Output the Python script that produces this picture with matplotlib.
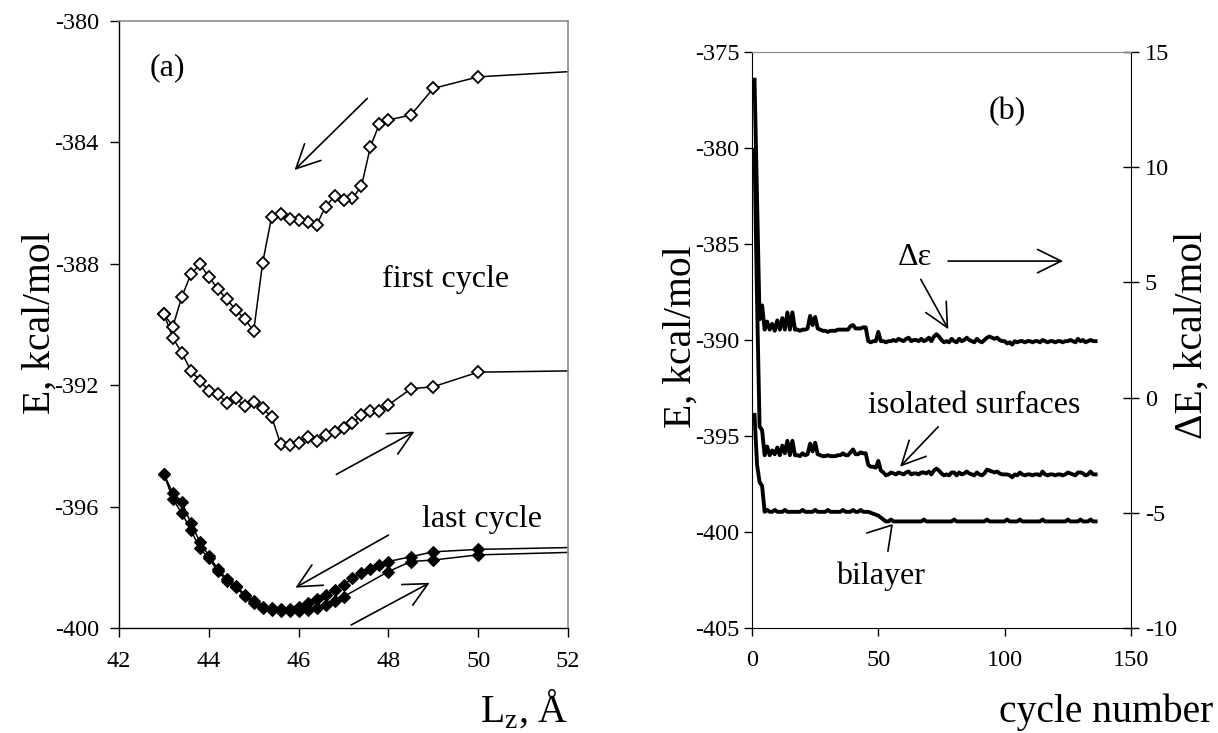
import numpy as np
import matplotlib
matplotlib.use("Agg")
import matplotlib.pyplot as plt

plt.rcParams['font.family'] = ['Liberation Serif', 'DejaVu Serif']
plt.rcParams['axes.unicode_minus'] = False
plt.rcParams['mathtext.fontset'] = 'custom'
plt.rcParams['mathtext.rm'] = 'Liberation Serif'

# ---------------- panel (a) data ----------------
L_first_down = [52.0, 50.0, 49.0, 48.5, 48.0, 47.8, 47.6, 47.4, 47.2, 47.0, 46.8, 46.6, 46.4, 46.2,
                46.0, 45.8, 45.6, 45.4, 45.2, 45.0, 44.8, 44.6, 44.4, 44.2, 44.0, 43.8, 43.6, 43.4,
                43.2, 43.0]
E_first_down = [-381.67, -381.84, -382.22, -383.10, -383.26, -383.39, -384.14, -385.44, -385.84,
                -385.90, -385.77, -386.12, -386.72, -386.63, -386.56, -386.52, -386.37, -386.45,
                -387.96, -390.21, -389.82, -389.52, -389.17, -388.83, -388.42, -388.02, -388.35,
                -389.08, -390.07, -389.65]

L_first_up = [43.0, 43.2, 43.4, 43.6, 43.8, 44.0, 44.2, 44.4, 44.6, 44.8, 45.0, 45.2, 45.4, 45.6,
              45.8, 46.0, 46.2, 46.4, 46.6, 46.8, 47.0, 47.2, 47.4, 47.6, 47.8, 48.0, 48.5, 49.0,
              50.0, 52.0]
E_first_up = [-389.65, -390.45, -390.93, -391.52, -391.85, -392.18, -392.29, -392.58, -392.43,
              -392.69, -392.56, -392.76, -393.04, -393.95, -393.97, -393.89, -393.70, -393.83,
              -393.64, -393.55, -393.42, -393.24, -392.98, -392.84, -392.84, -392.65, -392.12,
              -392.05, -391.57, -391.53]

L_last_down = [52.0, 50.0, 49.0, 48.5, 48.0, 47.8, 47.6, 47.4, 47.2, 47.0, 46.8, 46.6, 46.4, 46.2,
               46.0, 45.8, 45.6, 45.4, 45.2, 45.0, 44.8, 44.6, 44.4, 44.2, 44.0, 43.8, 43.6, 43.4,
               43.2, 43.0]
E_last_down = [-397.35, -397.41, -397.49, -397.65, -397.81, -397.92, -398.07, -398.20, -398.36,
               -398.58, -398.75, -398.91, -399.06, -399.19, -399.32, -399.38, -399.38, -399.35,
               -399.30, -399.12, -398.90, -398.60, -398.38, -398.05, -397.62, -397.16, -396.55,
               -395.84, -395.56, -394.93]

L_last_up = [43.0, 43.2, 43.4, 43.6, 43.8, 44.0, 44.2, 44.4, 44.6, 44.8, 45.0, 45.2, 45.4, 45.6,
             45.8, 46.0, 46.2, 46.4, 46.6, 46.8, 47.0, 48.0, 48.5, 49.0, 50.0, 52.0]
E_last_up = [-394.93, -395.75, -396.22, -396.77, -397.38, -397.70, -398.12, -398.45, -398.65,
             -398.95, -399.18, -399.35, -399.42, -399.45, -399.45, -399.45, -399.40, -399.35,
             -399.25, -399.12, -398.97, -398.14, -397.81, -397.76, -397.59, -397.51]

# ---------------- panel (b) data ----------------
cycles = list(range(1, 137))
d_eps = [13.80, 8.60, 3.40, 4.00, 2.95, 3.30, 2.95, 3.20, 2.90, 3.35,
         2.95, 3.45, 2.95, 3.70, 2.95, 3.70, 2.95, 2.95, 2.90, 2.95,
         2.95, 3.00, 3.55, 3.15, 3.50, 3.00, 2.95, 2.90, 2.90, 2.85,
         2.90, 2.90, 2.90, 2.95, 2.95, 2.95, 2.95, 2.95, 3.10, 3.15,
         3.00, 3.00, 3.00, 3.05, 3.05, 2.45, 2.40, 2.45, 2.45, 2.85,
         2.45, 2.45, 2.40, 2.45, 2.45, 2.50, 2.45, 2.55, 2.50, 2.45,
         2.55, 2.60, 2.45, 2.50, 2.50, 2.45, 2.55, 2.45, 2.50, 2.60,
         2.45, 2.65, 2.75, 2.65, 2.50, 2.40, 2.45, 2.40, 2.55, 2.45,
         2.40, 2.55, 2.45, 2.50, 2.60, 2.50, 2.45, 2.40, 2.55, 2.45,
         2.40, 2.50, 2.60, 2.65, 2.60, 2.55, 2.60, 2.50, 2.45, 2.45,
         2.35, 2.40, 2.30, 2.45, 2.40, 2.45, 2.45, 2.40, 2.45, 2.45,
         2.40, 2.45, 2.45, 2.40, 2.50, 2.45, 2.40, 2.45, 2.45, 2.40,
         2.45, 2.45, 2.40, 2.45, 2.45, 2.50, 2.45, 2.40, 2.55, 2.45,
         2.50, 2.40, 2.45, 2.50, 2.45, 2.45]

bilayer = [-393.90, -396.50, -397.40, -397.60, -398.95, -398.85, -398.95, -398.95, -398.85, -398.95,
           -398.95, -398.95, -398.85, -398.95, -398.95, -398.95, -398.95, -398.95, -398.95, -398.85,
           -398.95, -398.95, -398.95, -398.95, -398.85, -398.95, -398.95, -398.95, -398.95, -398.85,
           -398.95, -398.95, -398.95, -398.95, -398.95, -398.85, -398.95, -398.95, -398.95, -398.85,
           -398.95, -398.95, -398.85, -398.95, -398.95, -398.95, -399.00, -399.05, -399.10, -399.15,
           -399.25, -399.35, -399.45, -399.45, -399.35, -399.45, -399.45, -399.45, -399.45, -399.45,
           -399.45, -399.45, -399.45, -399.45, -399.45, -399.45, -399.45, -399.35, -399.45, -399.45,
           -399.45, -399.45, -399.45, -399.45, -399.45, -399.45, -399.45, -399.45, -399.45, -399.35,
           -399.45, -399.45, -399.45, -399.45, -399.45, -399.45, -399.45, -399.45, -399.45, -399.45,
           -399.45, -399.45, -399.35, -399.45, -399.45, -399.45, -399.45, -399.45, -399.45, -399.45,
           -399.35, -399.45, -399.45, -399.45, -399.45, -399.35, -399.45, -399.45, -399.45, -399.45,
           -399.45, -399.45, -399.45, -399.45, -399.35, -399.45, -399.45, -399.45, -399.45, -399.45,
           -399.45, -399.45, -399.45, -399.45, -399.35, -399.45, -399.45, -399.45, -399.45, -399.35,
           -399.45, -399.45, -399.45, -399.35, -399.45, -399.45]

isolated = [-380.10, -388.00, -394.50, -394.70, -396.00, -395.55, -396.00, -395.75, -395.95, -395.60,
            -396.00, -395.50, -395.90, -395.25, -396.00, -395.25, -396.00, -396.00, -396.05, -395.90,
            -396.00, -395.95, -395.40, -395.80, -395.35, -395.95, -396.00, -396.05, -396.05, -396.00,
            -396.05, -396.05, -396.05, -396.00, -396.00, -395.90, -396.00, -396.00, -395.85, -395.70,
            -395.95, -395.95, -395.85, -395.90, -395.90, -396.50, -396.60, -396.60, -396.65, -396.30,
            -396.80, -396.90, -397.05, -397.00, -396.90, -396.95, -397.00, -396.90, -396.95, -397.00,
            -396.90, -396.85, -397.00, -396.95, -396.95, -397.00, -396.90, -396.90, -396.95, -396.85,
            -397.00, -396.80, -396.70, -396.80, -396.95, -397.05, -397.00, -397.05, -396.90, -396.90,
            -397.05, -396.90, -397.00, -396.95, -396.85, -396.95, -397.00, -397.05, -396.90, -397.00,
            -397.05, -396.95, -396.75, -396.80, -396.85, -396.90, -396.85, -396.95, -397.00, -397.00,
            -397.00, -397.05, -397.15, -397.00, -397.05, -396.90, -397.00, -397.05, -397.00, -397.00,
            -397.05, -397.00, -397.00, -397.05, -396.85, -397.00, -397.05, -397.00, -397.00, -397.05,
            -397.00, -397.00, -397.05, -397.00, -396.90, -396.95, -397.00, -397.05, -396.90, -396.90,
            -396.95, -397.05, -397.00, -396.85, -397.00, -397.00]

a_xticks = [42, 44, 46, 48, 50, 52]
a_yticks = [-400, -396, -392, -388, -384, -380]
b_xticks = [0, 50, 100, 150]
b_yticks = [-405, -400, -395, -390, -385, -380, -375]
b_y2ticks = [-10, -5, 0, 5, 10, 15]

# ---------------- figure ----------------
W, H = 1218, 733
fig = plt.figure(figsize=(W / 100, H / 100), dpi=100)

def fx(x):
    return x / W

def fy(y):
    return 1 - y / H

GRAY = '#8c8c8c'
TICK_FS = 17.5
LAB_FS = 28.5
ANN_FS = 23

ax_a = fig.add_axes([fx(119), fy(628), fx(568) - fx(119), fy(21) - fy(628)])
ax_b = fig.add_axes([fx(752), fy(628), fx(1131) - fx(752), fy(52) - fy(628)])
ax_b2 = ax_b.twinx()

# panel (a) curves
lw_a = 1.1
ms_open = 5.9
ms_fill = 6.3
for Ls, Es in [(L_first_down, E_first_down), (L_first_up, E_first_up)]:
    ax_a.plot(Ls, Es, color='black', lw=lw_a, zorder=2, clip_on=False)
    marks = [i for i, v in enumerate(Ls) if v < 51.9]
    ax_a.plot(Ls, Es, ls='none', marker='D', ms=ms_open, mfc='white', mec='black', mew=1.3,
              markevery=marks, zorder=3, clip_on=False)
for Ls, Es in [(L_last_down, E_last_down), (L_last_up, E_last_up)]:
    ax_a.plot(Ls, Es, color='black', lw=lw_a, zorder=2, clip_on=False)
    marks = [i for i, v in enumerate(Ls) if v < 51.9]
    ax_a.plot(Ls, Es, ls='none', marker='D', ms=ms_fill, mfc='black', mec='black', mew=0.8,
              markevery=marks, zorder=3, clip_on=False)

ax_a.set_xlim(42, 52)
ax_a.set_ylim(-400, -380)
ax_a.set_xticks(a_xticks)
ax_a.set_yticks(a_yticks)
ax_a.tick_params(axis='both', direction='out', length=6.5, width=1.0, labelsize=TICK_FS)
ax_a.tick_params(axis='y', pad=8)
ax_a.tick_params(axis='x', pad=10)
for s in ['top', 'right']:
    ax_a.spines[s].set_color(GRAY)
    ax_a.spines[s].set_linewidth(1.2)
for s in ['left', 'bottom']:
    ax_a.spines[s].set_color('black')
    ax_a.spines[s].set_linewidth(1.0)

arrow_kw = dict(arrowstyle='->,head_length=0.85,head_width=0.42', lw=1.2, color='black',
                shrinkA=0, shrinkB=0, mutation_scale=20)
ax_a.annotate('', xy=(45.91, -384.91), xytext=(47.53, -382.55), arrowprops=arrow_kw)
ax_a.annotate('', xy=(48.58, -393.53), xytext=(46.84, -394.94), arrowprops=arrow_kw)
ax_a.annotate('', xy=(45.93, -398.67), xytext=(48.0, -396.94), arrowprops=arrow_kw)
ax_a.annotate('', xy=(48.92, -398.51), xytext=(47.17, -399.90), arrowprops=arrow_kw,
              annotation_clip=False)

ax_a.text(43.07, -381.55, '(a)', fontsize=ANN_FS, ha='center', va='center')
ax_a.text(49.27, -388.53, 'first cycle', fontsize=ANN_FS, ha='center', va='center')
ax_a.text(50.09, -396.41, 'last cycle', fontsize=ANN_FS, ha='center', va='center')

# panel (b) curves
lw_b = 2.8
ax_b.plot(cycles, isolated, color='black', lw=lw_b, solid_joinstyle='round', zorder=3)
ax_b.plot(cycles, bilayer, color='black', lw=lw_b, solid_joinstyle='round', zorder=3)
ax_b2.plot(cycles, d_eps, color='black', lw=lw_b, solid_joinstyle='round', zorder=3)

ax_b.set_xlim(0, 150)
ax_b.set_ylim(-405, -375)
ax_b2.set_ylim(-10, 15)
ax_b.set_xticks(b_xticks)
ax_b.set_yticks(b_yticks)
ax_b2.set_yticks(b_y2ticks)
ax_b.tick_params(axis='both', direction='out', length=6, width=1.0, labelsize=TICK_FS)
ax_b.tick_params(axis='y', pad=3)
ax_b.tick_params(axis='x', pad=10)
ax_b2.tick_params(axis='y', direction='inout', length=12, width=1.0, labelsize=TICK_FS, pad=4)
ax_b.spines['top'].set_color(GRAY)
ax_b.spines['right'].set_visible(False)
ax_b2.spines['top'].set_color(GRAY)
ax_b2.spines['left'].set_visible(False)
ax_b2.spines['bottom'].set_visible(False)
ax_b2.spines['right'].set_color('black')

ax_b.annotate('', xy=(123.1, -385.89), xytext=(77.6, -385.89), arrowprops=arrow_kw)
ax_b.annotate('', xy=(77.7, -389.44), xytext=(66.8, -386.84), arrowprops=arrow_kw)
ax_b.annotate('', xy=(58.6, -396.60), xytext=(73.7, -394.52), arrowprops=arrow_kw)
ax_b.plot([45.5, 55.4, 53.8], [-400.05, -399.64, -400.99], color='black', lw=1.2)

ax_b.text(100.9, -378.1, '(b)', fontsize=ANN_FS, ha='center', va='center')
ax_b.text(64.5, -385.7, 'Δε', fontsize=ANN_FS, ha='center', va='center')
ax_b.text(87.9, -393.4, 'isolated surfaces', fontsize=ANN_FS, ha='center', va='center')
ax_b.text(51.0, -402.3, 'bilayer', fontsize=ANN_FS, ha='center', va='center')

# axis labels
fig.text(fx(40), fy(323), 'E, kcal/mol', fontsize=LAB_FS, rotation=90, ha='center', va='center')
fig.text(fx(681), fy(337), 'E, kcal/mol', fontsize=LAB_FS, rotation=90, ha='center', va='center')
fig.text(fx(1192), fy(335), 'ΔE, kcal/mol', fontsize=LAB_FS, rotation=90, ha='center', va='center')
fig.text(fx(568), fy(722), 'L$_\\mathrm{z}$, Å', fontsize=LAB_FS, ha='right', va='baseline')
fig.text(fx(1213), fy(722), 'cycle number', fontsize=LAB_FS, ha='right', va='baseline')

fig.savefig('out.png', dpi=100)
